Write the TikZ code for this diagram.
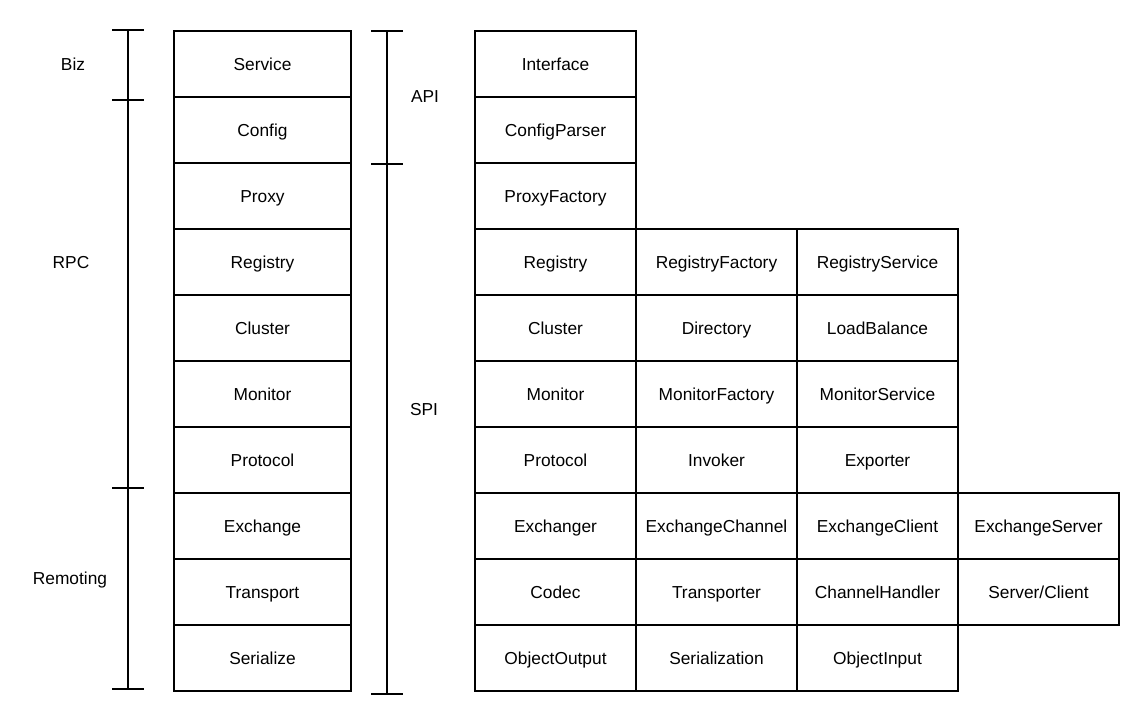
\documentclass[tikz,border=0pt]{standalone}
\usepackage{fontspec}
\setmainfont{Liberation Sans}
\usetikzlibrary{positioning}

\begin{document}
\begin{tikzpicture}[x=0.6pt,y=-0.6pt,
  layer/.style={draw,line width=0.8pt,minimum width=106.2pt,minimum height=39.6pt,
                inner sep=0pt,text height=10pt,text depth=2.2pt,
                font=\fontsize{10.4}{12}\selectfont},
  part/.style={draw,line width=0.8pt,minimum width=96.6pt,minimum height=39.6pt,
               inner sep=0pt,text height=10pt,text depth=2.2pt,
               font=\fontsize{10.4}{12}\selectfont},
  tag/.style={font=\fontsize{10.4}{12}\selectfont},
  bar/.style={line width=0.8pt}
]
\useasboundingbox (0,0) rectangle (1135,701);

% layer stack
\foreach \name [count=\i from 0] in {Service,Config,Proxy,Registry,Cluster,Monitor,
    Protocol,Exchange,Transport,Serialize}
  \node[layer] (l\i) at (262.5,64+66*\i) {\name};

% interfaces per layer
\foreach \cells [count=\r from 0] in {{Interface},{ConfigParser},{ProxyFactory},
    {Registry,RegistryFactory,RegistryService},
    {Cluster,Directory,LoadBalance},
    {Monitor,MonitorFactory,MonitorService},
    {Protocol,Invoker,Exporter},
    {Exchanger,ExchangeChannel,ExchangeClient,ExchangeServer},
    {Codec,Transporter,ChannelHandler,Server/Client},
    {ObjectOutput,Serialization,ObjectInput}}
  \foreach \txt [count=\c from 0] in \cells
    \node[part] (p\r-\c) at (555.5+161*\c,64+66*\r) {\txt};

% left scale
\coordinate (biz) at (128,30);
\coordinate (rpc) at (128,100);
\coordinate (rem) at (128,488);
\coordinate (bot) at (128,689);
\draw[bar] (biz) -- (bot);
\foreach \t in {biz,rpc,rem,bot}
  \draw[bar] ([xshift=-9.6pt]\t) -- ([xshift=9.6pt]\t);

% right scale
\coordinate (api) at (387,31);
\coordinate (spi) at (387,164);
\coordinate (end) at (387,694);
\draw[bar] (api) -- (end);
\foreach \t in {api,spi,end}
  \draw[bar] ([xshift=-9.6pt]\t) -- ([xshift=9.6pt]\t);

% scale labels
\node[tag] (tbiz) at (73,64)  {Biz};
\node[tag] (trpc) at (71,263) {RPC};
\node[tag] (trem) at (70,580) {Remoting};
\node[tag] (tapi) at (425,97) {API};
\node[tag] (tspi) at (424,410) {SPI};
\end{tikzpicture}
\end{document}
